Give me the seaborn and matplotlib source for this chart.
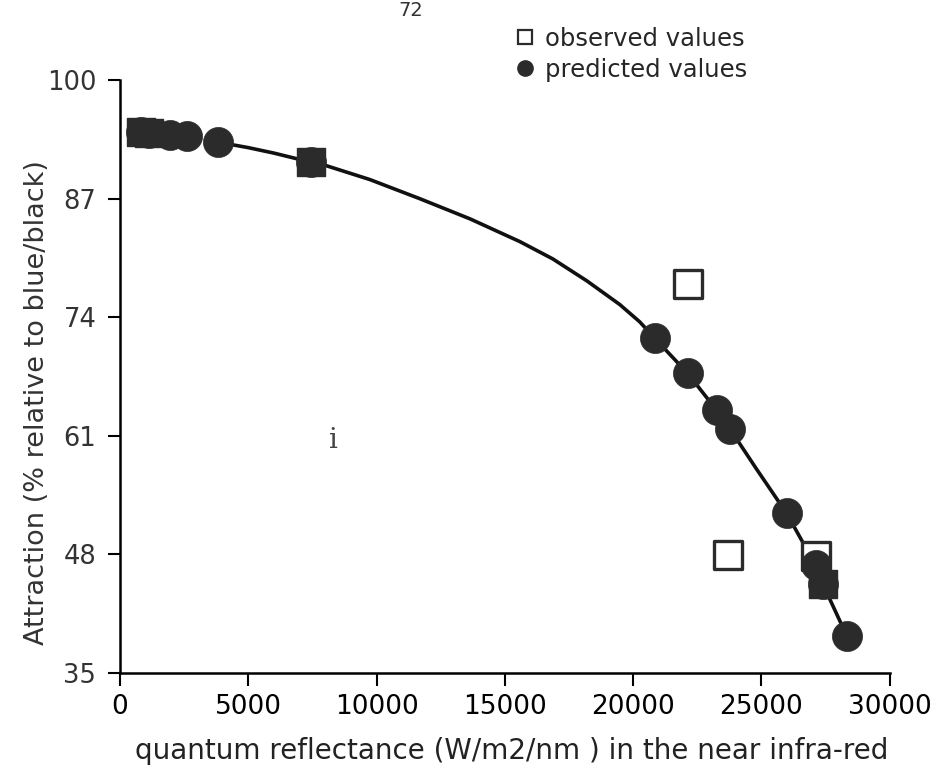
import matplotlib
matplotlib.use("Agg")
import matplotlib.pyplot as plt
from matplotlib.lines import Line2D
import seaborn as sns
import pandas as pd

# values
obs_x = [818, 1130, 7441, 22127, 23685, 27113, 27386]
obs_y = [94.3, 94.2, 91.0, 77.7, 47.9, 47.8, 44.8]

pred_x = [818, 1130, 1950, 2610, 3820, 7441, 20842, 22127, 23257, 23763, 25984, 27113, 27386, 28321]
pred_y = [94.3, 94.2, 94.0, 93.85, 93.2, 91.0, 71.7, 67.85, 63.8, 61.8, 52.5, 46.8, 44.8, 39.1]

# fitted curve
curve_x = [3820, 5000, 6000, 7441, 8064, 9739, 11687, 13635, 15583, 16868, 18193,
           19478, 20257, 20842, 22127, 23257, 23763, 24800, 25984, 27113, 27386, 28321]
curve_y = [93.2, 92.6, 92.0, 91.0, 90.6, 89.1, 87.0, 84.8, 82.3, 80.4, 78.0,
           75.4, 73.5, 71.7, 67.85, 63.8, 61.8, 57.4, 52.5, 46.8, 44.8, 39.1]

x_ticks = [0, 5000, 10000, 15000, 20000, 25000, 30000]
y_ticks = [35, 48, 61, 74, 87, 100]

dark = "#2b2b2b"

sns.set_style("ticks")
plt.rcParams["font.family"] = ["DejaVu Sans"]

fig = plt.figure(figsize=(9.41, 7.75), dpi=100)
ax = fig.add_axes([0.1275, 0.1316, 0.818, 0.765])

obs = pd.DataFrame({"x": obs_x, "y": obs_y})
pred = pd.DataFrame({"x": pred_x, "y": pred_y})
curve = pd.DataFrame({"x": curve_x, "y": curve_y})

# observed squares that sit on a prediction look solid in the original
pred_at = dict(zip(pred_x, pred_y))
obs["on_curve"] = [abs(pred_at.get(x, -99) - y) < 0.3 for x, y in zip(obs_x, obs_y)]

sns.lineplot(data=curve, x="x", y="y", ax=ax, color="#111111", linewidth=2.6,
             estimator=None, sort=True, zorder=2)
sns.scatterplot(data=obs[~obs["on_curve"]], x="x", y="y", ax=ax, marker="s", s=400,
                facecolor="white", edgecolor=dark, linewidth=2.4, zorder=3)
sns.scatterplot(data=pred, x="x", y="y", ax=ax, marker="o", s=470,
                color=dark, edgecolor=dark, linewidth=0.5, zorder=4)
sns.scatterplot(data=obs[obs["on_curve"]], x="x", y="y", ax=ax, marker="s", s=420,
                color=dark, edgecolor=dark, linewidth=1, zorder=5)

ax.set_xlim(0, 30000)
ax.set_ylim(35, 100)
ax.set_xticks(x_ticks)
ax.set_yticks(y_ticks)
ax.tick_params(axis="both", direction="out", length=9, width=1.5, labelsize=18.5,
               colors="black", pad=8)
ax.tick_params(axis="y", labelcolor="#333333")
ax.tick_params(axis="x", labelsize=19, pad=6)
for side in ["left", "bottom"]:
    ax.spines[side].set_linewidth(1.8)
    ax.spines[side].set_color("black")
sns.despine(ax=ax)

ax.set_xlabel("quantum reflectance (W/m2/nm ) in the near infra-red", fontsize=20,
              color="#222222")
ax.set_ylabel("Attraction (% relative to blue/black)", fontsize=19.5, color="#333333")
ax.xaxis.set_label_coords(0.509, -0.108)
ax.yaxis.set_label_coords(-0.091, 0.457)

handles = [
    Line2D([], [], marker="s", linestyle="none", markersize=10, markerfacecolor="white",
           markeredgecolor=dark, markeredgewidth=1.6, label="observed values"),
    Line2D([], [], marker="o", linestyle="none", markersize=11, markerfacecolor=dark,
           markeredgecolor=dark, label="predicted values"),
]
fig.legend(handles=handles, loc="upper left", bbox_to_anchor=(0.522, 0.994),
           frameon=False, fontsize=17.5, handletextpad=0.3, labelspacing=0.3,
           handlelength=1.0)

fig.text(0.436, 1 - 1 / 775, "72", fontsize=14, ha="center", va="top", color="#333333")
ax.text(8300, 60.5, "i", fontsize=20, family="serif", ha="center", va="center",
        color="#444444")

fig.savefig("out.png", dpi=100)
